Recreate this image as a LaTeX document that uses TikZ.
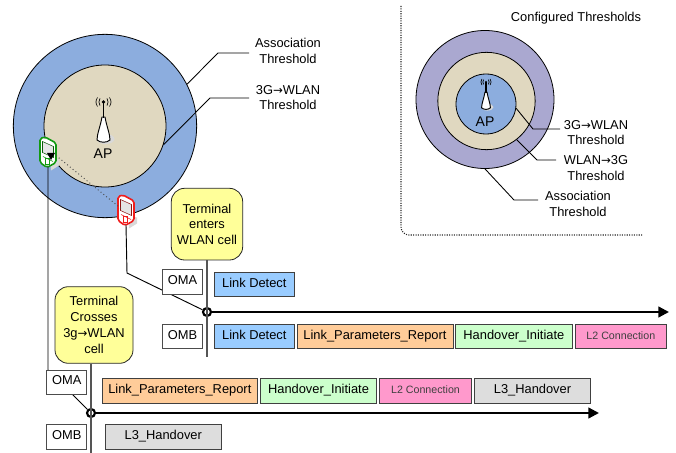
\documentclass[tikz,border=0pt]{standalone}
\usepackage{fontspec}
\setmainfont{Liberation Sans}
\newfontfamily\arrowfont{DejaVu Sans}
\newcommand{\toarrow}{{\arrowfont\fontsize{8.8}{11}\selectfont →}}
\usetikzlibrary{arrows.meta,shadows}
\definecolor{cblue}{HTML}{8CADDE}
\definecolor{cbeige}{HTML}{E0D8C0}
\definecolor{cviolet}{HTML}{AAA8D0}
\definecolor{cyellow}{HTML}{FFFF99}
\definecolor{cdet}{HTML}{99CCFF}
\definecolor{cpar}{HTML}{FFCC99}
\definecolor{chan}{HTML}{CCFFCC}
\definecolor{cltwo}{HTML}{FF99CC}
\definecolor{clthree}{HTML}{DDDDDD}
\definecolor{cgrn}{HTML}{129A12}
\definecolor{cred}{HTML}{F01C1C}
\definecolor{cline}{HTML}{555555}
\tikzset{
  every node/.style={font=\fontsize{9.65}{11.8}\selectfont,align=center,inner sep=0pt,text=black},
  ring/.style={circle,draw=black,line width=0.6pt},
  leader/.style={draw=black,line width=0.65pt},
  stream/.style={draw=black,line width=1.7pt,-{Triangle[length=8pt,width=8pt]}},
  axis/.style={draw=cline,line width=0.9pt},
  link/.style={draw=black,line width=0.7pt},
  junction/.style={circle,draw=black,line width=1.6pt,minimum size=6pt},
  callout/.style={draw=black!85,line width=0.6pt,fill=cyellow,rounded corners=10pt},
  tag/.style={draw=black!70,line width=0.6pt,fill=white,text height=6.5pt,text depth=2.6pt,drop shadow={shadow xshift=0.4pt,shadow yshift=-0.4pt,fill=black!40,opacity=0.7}},
  phase/.style={draw=black!75,line width=0.7pt,text height=6.5pt,text depth=2.6pt,drop shadow={shadow xshift=0.4pt,shadow yshift=-0.4pt,fill=black!50,opacity=0.7}},
  small/.style={font=\fontsize{8}{9}\selectfont,text=black!75},
}
% name, x1, y1, x2, y2, style, text
\newcommand{\pxbox}[7]{%
  \pgfmathsetlengthmacro{\bw}{(#4-#2)*0.75pt}%
  \pgfmathsetlengthmacro{\bh}{(#5-#3)*0.75pt}%
  \pgfmathsetmacro{\bcx}{(#2+#4)/2}%
  \pgfmathsetmacro{\bcy}{(#3+#5)/2}%
  \node[#6,minimum width=\bw,minimum height=\bh] (#1) at (\bcx,\bcy) {#7};}
% x, y of mast top, scale
\newcommand{\antenna}[3]{%
  \begin{scope}[shift={(#1,#2)},scale=#3]
    \fill[black!15] (2,37) ellipse (9 and 5);
    \draw[line width=0.7pt,fill=white] (-1.5,15) .. controls (-3,24) and (-6.5,32) .. (-6.5,38)
       .. controls (-3,41) and (3,41) .. (6.5,38) .. controls (6.5,32) and (3,24) .. (1.5,15) -- cycle;
    \draw[line width=0.8pt] (0,0) -- (0,16);
    \fill (0,0) circle (1.8);
    \draw[line width=0.5pt] (-3.5,-3.5) .. controls (-5,-1) and (-5,1) .. (-3.5,3.5);
    \draw[line width=0.5pt] (3.5,-3.5) .. controls (5,-1) and (5,1) .. (3.5,3.5);
    \draw[line width=0.5pt] (-6,-4.5) .. controls (-8,-1.5) and (-8,1.5) .. (-6,4.5);
    \draw[line width=0.5pt] (6,-4.5) .. controls (8,-1.5) and (8,1.5) .. (6,4.5);
  \end{scope}}
% name, x, y centre, colour
\newcommand{\handset}[4]{%
  \begin{scope}[shift={(#2,#3)}]
    \fill[black!15] (2,4) -- (11,6) -- (11,12) -- (3,17) -- cycle;
    \draw[#4,line width=1.2pt,fill=white,rounded corners=1.4pt] (-8,-15) -- (-3,-16.5) -- (8,-10.5) -- (8,9) -- (-1,14) -- (-8,9) -- cycle;
    \draw[#4!60!black,line width=0.4pt,fill=black!10] (-5.5,-12) -- (5.5,-7) -- (5.5,4) -- (-5.5,-1) -- cycle;
    \draw[#4,line width=0.5pt] (-5,3) -- (5,8);
    \draw[#4,line width=0.5pt] (-3,5) rectangle (1.5,11);
    \coordinate (#1) at (0,13.5);
    \coordinate (#1e) at (8,8);
    \coordinate (#1w) at (-5,-3);
  \end{scope}}
\begin{document}
\begin{tikzpicture}[x=0.75pt,y=-0.75pt]
\useasboundingbox (0,0) rectangle (676,453);
% left cell
\node[ring,fill=cblue,minimum size=137.5pt] (outerL) at (105,126) {};
\node[ring,fill=cbeige,minimum size=91.5pt] (innerL) at (105,126) {};
\antenna{103.5}{102}{1}
\node (apL) at (103,154) {\fontsize{10.5}{11}\selectfont AP};
\node (assocL) at (288,51) {Association\\Threshold};
\node (wlanL) at (288,97.5) {3G\toarrow WLAN\\Threshold};
\coordinate (assocLb) at (218,53);
\coordinate (assocLe) at (249,53);
\coordinate (wlanLb) at (210,98);
\coordinate (wlanLe) at (249,98);
\draw[leader] (outerL.27) -- (assocLb) -- (assocLe);
\draw[leader] (innerL.-18) -- (wlanLb) -- (wlanLe);
% terminals
\handset{phoneG}{48}{153.5}{cgrn}
\handset{phoneR}{126}{211.5}{cred}
\draw[black!70,line width=0.7pt,dotted] (phoneGe) ++(0,-6) -- (phoneRw);
\coordinate (tipA) at (51,153);
\fill[black] (47,153) -- (55,153) -- (51,160) -- cycle;
% inset
\draw[black!85,line width=0.8pt,densely dotted,rounded corners=6pt] (401,6) -- (401,235) -- (643,235);
\node (cfg) at (576,18) {Configured Thresholds};
\node[ring,fill=cviolet,minimum size=103.5pt] (outerR) at (485,99.5) {};
\node[ring,fill=cbeige,minimum size=73pt] (midR) at (486.5,101) {};
\node[ring,fill=cblue,minimum size=45pt] (innerR) at (486,104) {};
\antenna{486}{82}{0.68}
\node (apR) at (485,122) {\fontsize{10.5}{11}\selectfont AP};
\node (wlanR) at (596,132.5) {3G\toarrow WLAN\\Threshold};
\node (backR) at (596,168) {WLAN\toarrow 3G\\Threshold};
\node (assocR) at (578,204) {Association\\Threshold};
\coordinate (wlanRb) at (533,129);
\coordinate (wlanRe) at (560,129);
\coordinate (backRb) at (537,160);
\coordinate (backRe) at (556,160);
\coordinate (assocRb) at (514,200);
\coordinate (assocRe) at (538,200);
\draw[leader] (innerR.-8) -- (wlanRb) -- (wlanRe);
\draw[leader] (midR.-52) -- (backRb) -- (backRe);
\draw[leader] (outerR.-90) -- (assocRb) -- (assocRe);
% callouts and axes
\pxbox{callA}{171.3}{188.3}{242.7}{260}{callout}{Terminal\\enters\\WLAN cell}
\pxbox{callB}{55}{286.7}{133}{363.3}{callout}{Terminal\\Crosses\\3g\toarrow WLAN\\cell}
\node[junction] (jA) at (207,312) {};
\node[junction] (jB) at (91,413) {};
\coordinate (endA) at (669,312);
\coordinate (endB) at (599,413);
\coordinate (footA) at (207,357);
\coordinate (footB) at (91,453);
\draw[axis] (callA.south -| jA) -- (footA);
\draw[axis] (callB.south -| jB) -- (footB);
\draw[stream] (jA) -- (endA);
\draw[stream] (jB) -- (endB);
\coordinate (bendR) at (127,273);
\coordinate (bendG) at (48,370);
\draw[link] (phoneR) -- (bendR) -- (jA);
\draw[link] (phoneG) -- (bendG) -- (jB);
% upper stream
\pxbox{omaA}{162.5}{269}{202.5}{294}{tag}{OMA}
\pxbox{ombA}{162.5}{324.3}{202.5}{348.7}{tag}{OMB}
\pxbox{detA}{214.3}{272.7}{294.3}{296.7}{phase,fill=cdet}{Link Detect}
\pxbox{detB}{214.3}{324.3}{294.3}{348.7}{phase,fill=cdet}{Link Detect}
\pxbox{parB}{297}{324.3}{453}{348.7}{phase,fill=cpar}{Link\_Parameters\_Report}
\pxbox{hanB}{455.7}{324.3}{572}{348.7}{phase,fill=chan}{Handover\_Initiate}
\pxbox{ltwoB}{575}{324.3}{666.7}{348.7}{phase,fill=cltwo,small}{L2 Connection}
% lower stream
\pxbox{omaC}{46.7}{370}{86.7}{394.3}{tag}{OMA}
\pxbox{ombC}{46.7}{424.3}{86.7}{449.3}{tag}{OMB}
\pxbox{parC}{102}{378.3}{257.7}{403.7}{phase,fill=cpar}{Link\_Parameters\_Report}
\pxbox{hanC}{260.3}{378.3}{376.7}{403.7}{phase,fill=chan}{Handover\_Initiate}
\pxbox{ltwoC}{379.3}{378.3}{471.7}{403.7}{phase,fill=cltwo,small}{L2 Connection}
\pxbox{lthrC}{474.3}{378.3}{590.7}{403.7}{phase,fill=clthree}{L3\_Handover}
\pxbox{lthrD}{105.3}{424.3}{221.3}{449.3}{phase,fill=clthree}{L3\_Handover}
\end{tikzpicture}
\end{document}
